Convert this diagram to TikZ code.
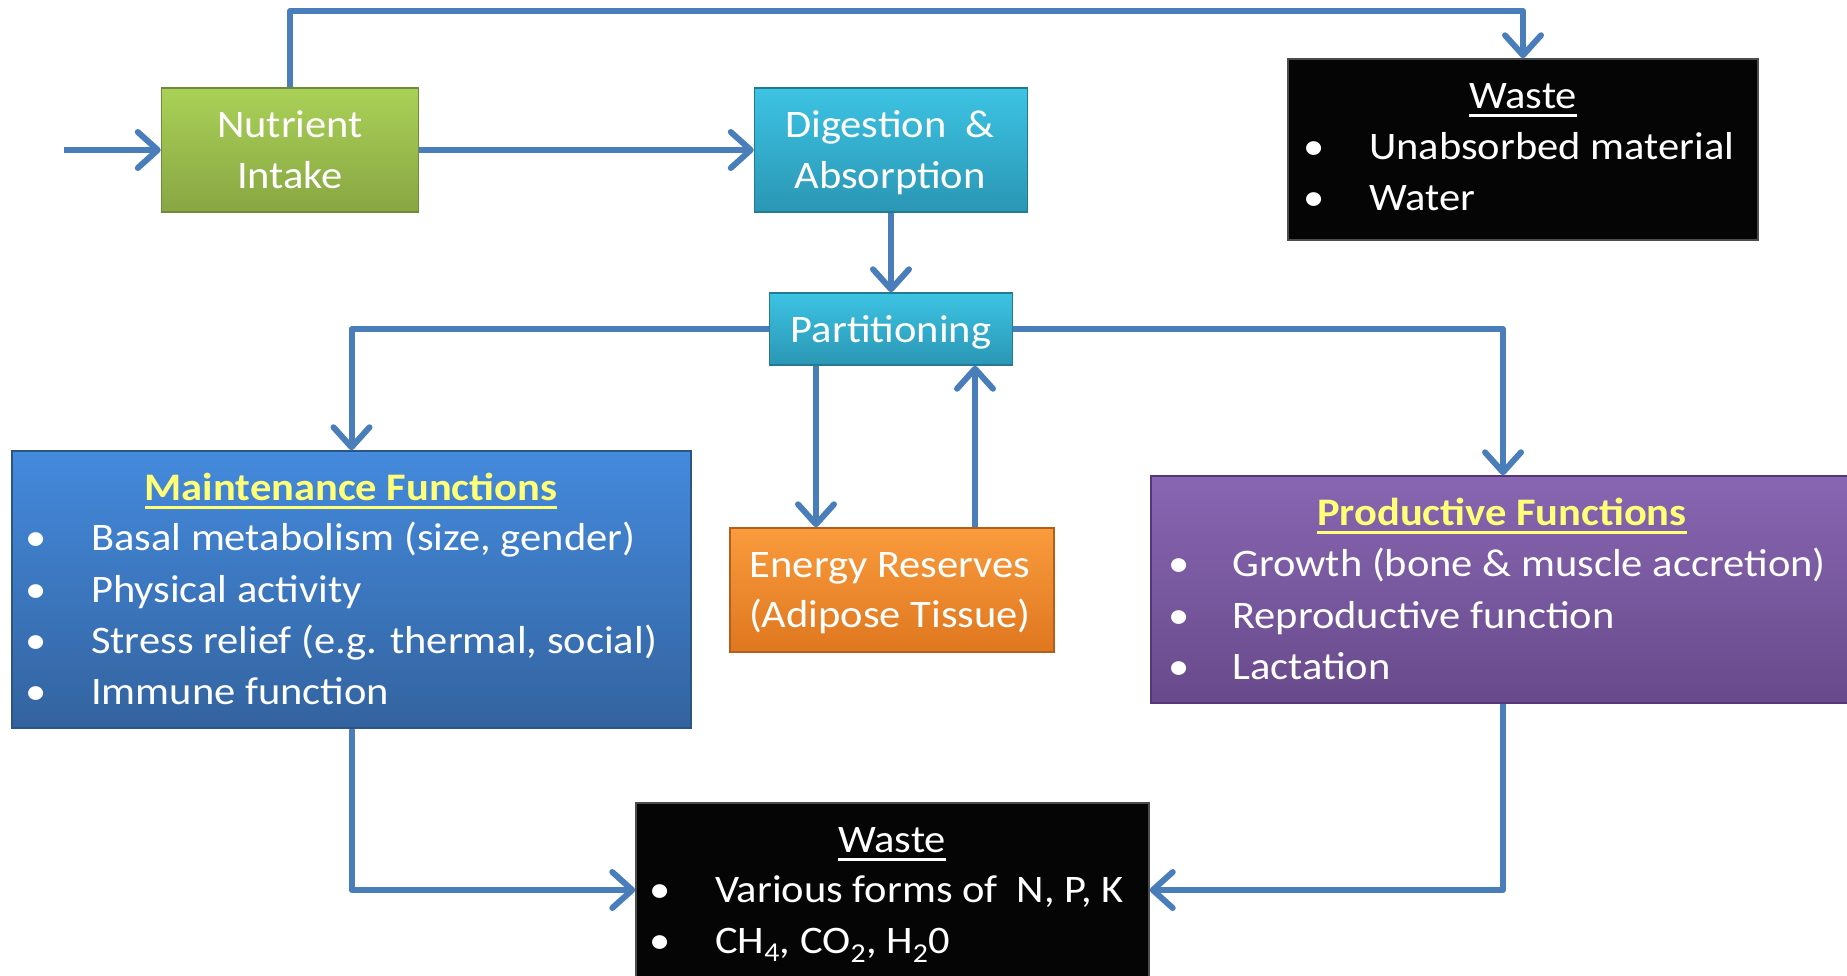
\documentclass[tikz,border=0pt]{standalone}
\usepackage{fontspec}
\setmainfont[FakeStretch = 1.09]{Carlito}
\usetikzlibrary{arrows.meta}
\definecolor{flowblue}{HTML}{4A7EBB}
\definecolor{titleyellow}{HTML}{FFFF78}
\definecolor{greentop}{HTML}{AAD157}
\definecolor{greenbot}{HTML}{88A643}
\definecolor{greenline}{HTML}{6F8A38}
\definecolor{cyantop}{HTML}{3DC3E3}
\definecolor{cyanbot}{HTML}{2A96B4}
\definecolor{cyanline}{HTML}{227A93}
\definecolor{bluetop}{HTML}{448ADD}
\definecolor{bluebot}{HTML}{33639F}
\definecolor{blueline}{HTML}{2B5586}
\definecolor{orangetop}{HTML}{FA9B3D}
\definecolor{orangebot}{HTML}{DF771F}
\definecolor{orangeline}{HTML}{B35E1A}
\definecolor{purpletop}{HTML}{8866B2}
\definecolor{purplebot}{HTML}{684A8B}
\definecolor{purpleline}{HTML}{543879}
\definecolor{wastefill}{HTML}{050505}
\newcommand{\ulbox}[1]{\setbox0\hbox{#1}\rlap{\rule[-9pt]{\wd0}{3pt}}\box0}
\tikzset{
    box/.style = {rectangle, line width = 1.5pt, inner sep = 0pt},
    wastebox/.style = {box, fill = wastefill, draw = black!70},
    flow/.style = {draw = flowblue, line width = 6pt, line join = round,
        -{Straight Barb[length = 20pt, width = 36pt, round]}},
    txt/.style = {text = white, font = \fontsize{39}{47}\selectfont, inner sep = 0pt},
}
\begin{document}
\begin{tikzpicture}[x = 1pt, y = -1pt]
    \useasboundingbox (0,0) rectangle (1847,975);
    \node[box, top color = greentop, bottom color = greenbot, draw = greenline, minimum width = 257pt, minimum height = 124pt] (nutrient) at (290,150) {};
    \node[box, top color = cyantop, bottom color = cyanbot, draw = cyanline, minimum width = 273pt, minimum height = 124pt] (digestion) at (891,150) {};
    \node[box, top color = cyantop, bottom color = cyanbot, draw = cyanline, minimum width = 243pt, minimum height = 72pt] (partition) at (891,329) {};
    \node[wastebox, minimum width = 470pt, minimum height = 181pt] (wastetop) at (1523,149.5) {};
    \node[box, top color = bluetop, bottom color = bluebot, draw = blueline, minimum width = 679pt, minimum height = 277pt] (maint) at (351.5,589.5) {};
    \node[box, top color = orangetop, bottom color = orangebot, draw = orangeline, minimum width = 324pt, minimum height = 124pt] (energy) at (892,590) {};
    \node[box, top color = purpletop, bottom color = purplebot, draw = purpleline, minimum width = 704pt, minimum height = 227pt] (prod) at (1503,589.5) {};
    \node[wastebox, minimum width = 513pt, minimum height = 174pt] (wastebot) at (892.5,890) {};

    \node[txt, anchor = base] (nutrient-a) at (290,137) {Nutrient};
    \node[txt, anchor = base] (nutrient-b) at (290,188) {Intake};
    \node[txt, anchor = base] (digestion-a) at (890,137) {Digestion~~\&};
    \node[txt, anchor = base] (digestion-b) at (890,188) {Absorption};
    \node[txt, anchor = base] (partition-a) at (891,342) {Partitioning};
    \node[txt, anchor = base] (energy-a) at (890,577) {Energy Reserves};
    \node[txt, anchor = base] (energy-b) at (890,627) {(Adipose Tissue)};

    \node[txt, anchor = base] (wastetop-t) at (1523,108) {\ulbox{Waste}};
    \foreach \y/\t in {159/{Unabsorbed material}, 210/{Water}} {
        \node[txt, anchor = base] (wastetop-b\y) at (1314,\y) {\textbullet};
        \node[txt, anchor = base west] (wastetop-\y) at (1369,\y) {\t};
    }
    \node[txt, anchor = base, text = titleyellow] (maint-t) at (351,500) {\ulbox{\textbf{Maintenance Functions}}};
    \foreach \y/\t in {550/{Basal metabolism (size, gender)}, 602/{Physical activity}, 653/{Stress relief (e.g. thermal, social)}, 704/{Immune function}} {
        \node[txt, anchor = base] (maint-b\y) at (36,\y) {\textbullet};
        \node[txt, anchor = base west] (maint-\y) at (91,\y) {\t};
    }
    \node[txt, anchor = base, text = titleyellow] (prod-t) at (1502,525) {\ulbox{\textbf{Productive Functions}}};
    \foreach \y/\t in {576/{Growth (bone \& muscle accretion)}, 628/{Reproductive function}, 679/{Lactation}} {
        \node[txt, anchor = base] (prod-b\y) at (1179,\y) {\textbullet};
        \node[txt, anchor = base west] (prod-\y) at (1232,\y) {\t};
    }
    \node[txt, anchor = base] (wastebot-t) at (892,852) {\ulbox{Waste}};
    \foreach \y/\t in {902/{Various forms of~~N, P, K}, 953/{CH\textsubscript{4}, CO\textsubscript{2}, H\textsubscript{2}0}} {
        \node[txt, anchor = base] (wastebot-b\y) at (660,\y) {\textbullet};
        \node[txt, anchor = base west] (wastebot-\y) at (715,\y) {\t};
    }

    \coordinate (start) at (64,150);
    \coordinate (top) at (0,11);
    \coordinate (down) at (816,0);
    \coordinate (up) at (975,0);
    \draw[flow] (start) -- (nutrient.west);
    \draw[flow] (nutrient.east) -- (digestion.west);
    \draw[flow] (nutrient.north) |- (top -| wastetop.north) -- (wastetop.north);
    \draw[flow] (digestion.south) -- (partition.north);
    \draw[flow] (partition.west) -| (maint.north);
    \draw[flow] (partition.east) -| (prod.north);
    \draw[flow] (partition.south -| down) -- (energy.north -| down);
    \draw[flow] (energy.north -| up) -- (partition.south -| up);
    \draw[flow] (maint.south) |- (wastebot.west);
    \draw[flow] (prod.south) |- (wastebot.east);
\end{tikzpicture}
\end{document}
